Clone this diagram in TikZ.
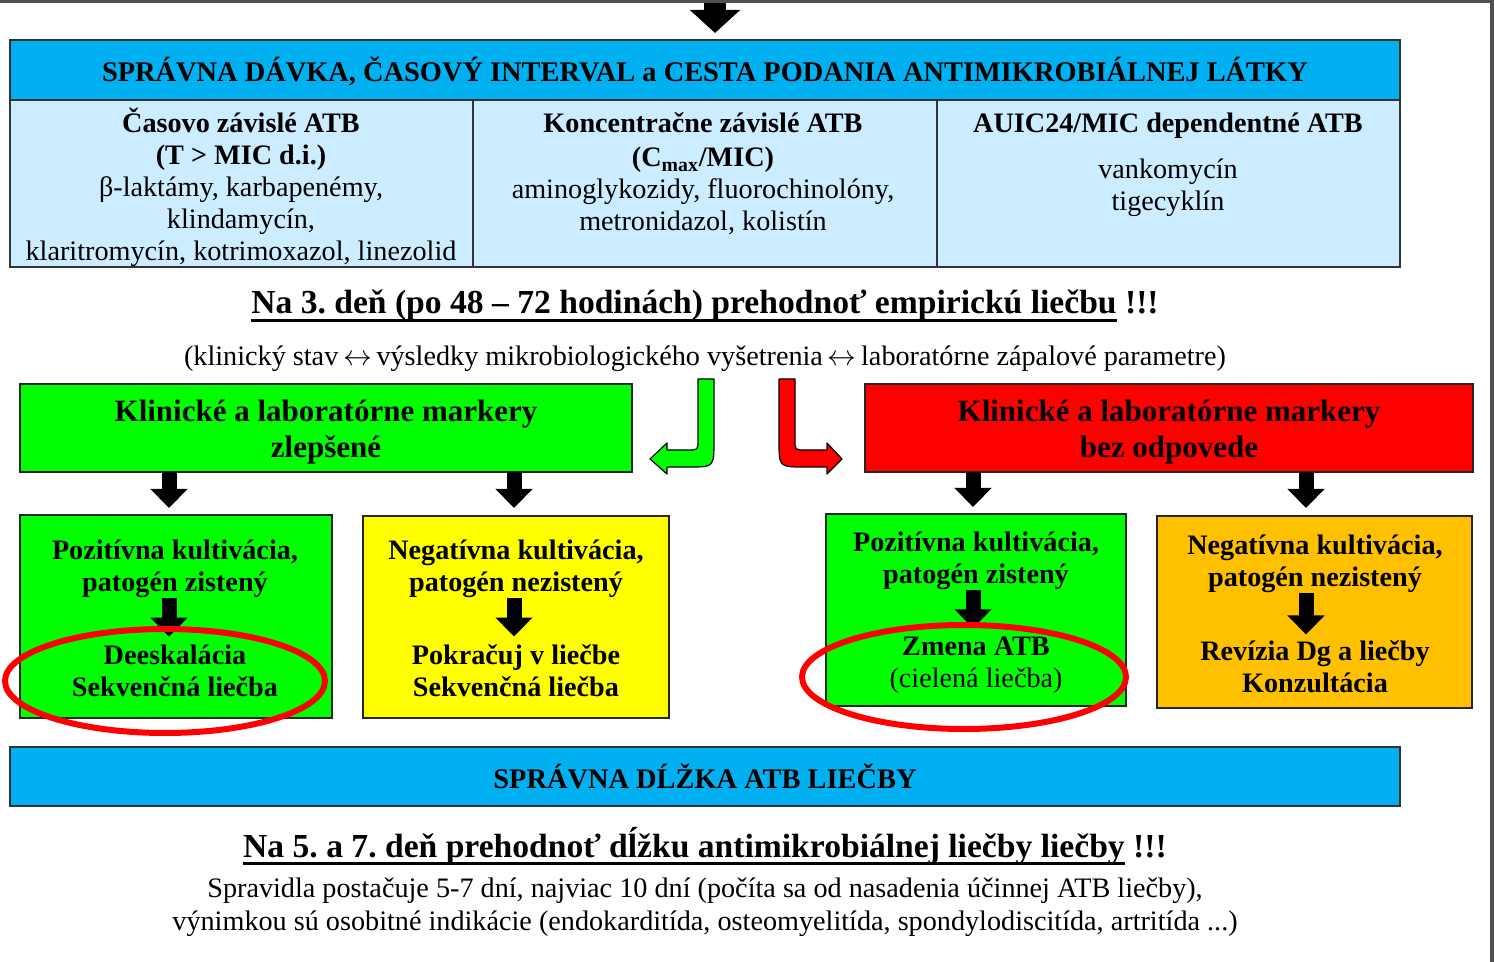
\documentclass[tikz,border=0pt]{standalone}
\usepackage{fontspec}
\setmainfont{Liberation Serif}
\usetikzlibrary{arrows.meta,shapes.geometric}
\definecolor{hdrblue}{HTML}{00B0F0}
\definecolor{lightblue}{HTML}{CCECFF}
\definecolor{brgreen}{HTML}{00FF00}
\definecolor{brred}{HTML}{FF0000}
\definecolor{bryellow}{HTML}{FFFF00}
\definecolor{orangebox}{HTML}{FFC000}
\definecolor{framegray}{HTML}{505050}
\frenchspacing
\newcommand\thul[1]{\setbox0\hbox{#1}\rlap{\rule[-4pt]{\wd0}{1.5pt}}\box0\relax}
\newcommand\lrarr{\,$\leftrightarrow$\,}
\tikzset{
  cellbox/.style={draw=black!80, line width=0.6pt, inner sep=0pt, outer sep=0pt},
  flowbox/.style={draw=black!85, line width=1pt, inner sep=0pt, outer sep=0pt},
  txt/.style={inner sep=0pt, align=center},
  bodyfont/.style={font=\fontsize{14.1}{16}\selectfont},
  boxfont/.style={font=\bfseries\fontsize{14.1}{16}\selectfont},
  headfont/.style={font=\bfseries\fontsize{15.5}{18}\selectfont},
  barfont/.style={font=\bfseries\fontsize{14.2}{16}\selectfont},
  bigfont/.style={font=\bfseries\fontsize{16.8}{20}\selectfont},
  smallarrow/.style={line width=7.5pt, -{Triangle[width=18pt,length=9.5pt]}},
  bigarrow/.style={line width=11pt, -{Triangle[width=24.5pt,length=11.5pt]}},
  hilite/.style={ellipse, draw=brred, line width=3pt, inner sep=0pt},
  bentarrow/.style={draw=black, line width=0.6pt, line join=round}
}
\begin{document}
\begin{tikzpicture}[x=0.5pt,y=-0.5pt]
\useasboundingbox (0,0) rectangle (1494,962);
\fill[white] (0,0) rectangle (1494,962);
\fill[framegray] (0,0) rectangle (1494,3);
\fill[framegray] (1490,0) rectangle (1494,962);

% ---- top table
\node[cellbox, fill=hdrblue, minimum width=695pt, minimum height=30pt] (hdr) at (705,70) {};
\node[txt, barfont] (hdrt) at (705,71) {SPRÁVNA DÁVKA, ČASOVÝ INTERVAL a CESTA PODANIA ANTIMIKROBIÁLNEJ LÁTKY};
\node[cellbox, fill=lightblue, minimum width=231.5pt, minimum height=83.5pt] (c1) at (241.5,183.5) {};
\node[cellbox, fill=lightblue, minimum width=232pt, minimum height=83.5pt] (c2) at (705,183.5) {};
\node[cellbox, fill=lightblue, minimum width=231.5pt, minimum height=83.5pt] (c3) at (1168.5,183.5) {};
\node[txt, bodyfont] (c1t) at (241,187) {\textbf{Časovo závislé ATB}\\ \textbf{(T > MIC d.i.)}\\ β-laktámy, karbapenémy,\\ klindamycín,\\ klaritromycín, kotrimoxazol, linezolid};
\node[txt, bodyfont] (c2t) at (703,174) {\textbf{Koncentračne závislé ATB}\\[1pt] \textbf{(C\textsubscript{max}/MIC)}\\ aminoglykozidy, fluorochinolóny,\\ metronidazol, kolistín};
\node[txt, boxfont] (c3h) at (1168,126) {AUIC24/MIC dependentné ATB};
\node[txt, bodyfont] (c3t) at (1168,188) {vankomycín\\ tigecyklín};
\coordinate (topin) at (715,3);
\draw[bigarrow, shorten >=3.5pt] (topin) -- (topin |- hdr.north);

% ---- reevaluation text
\node[txt, bigfont] (day3) at (705,306) {\thul{Na 3. deň (po 48 – 72 hodinách) prehodnoť empirickú liečbu} !!!};
\node[txt, bodyfont] (param) at (705,359) {(klinický stav\lrarr výsledky mikrobiologického vyšetrenia\lrarr laboratórne zápalové parametre)};

% ---- marker boxes
\node[flowbox, fill=brgreen, minimum width=306pt, minimum height=44pt] (gb) at (326,428) {};
\node[txt, headfont] (gbt) at (326,432) {Klinické a laboratórne markery\\ zlepšené};
\node[flowbox, fill=brred, minimum width=304pt, minimum height=44pt] (rb) at (1169,428) {};
\node[txt, headfont] (rbt) at (1169,432) {Klinické a laboratórne markery\\ bez odpovede};

% bent arrows
\filldraw[bentarrow, fill=brgreen] (698,379) -- (714,379) -- (714,440) .. controls (714,467) .. (690,467)
  -- (667,467) -- (667,474) -- (650,459) -- (667,443) -- (667,450) -- (688,450)
  .. controls (698,450) .. (698,440) -- cycle;
\filldraw[bentarrow, fill=brred] (795,379) -- (779,379) -- (779,440) .. controls (779,467) .. (803,467)
  -- (827,467) -- (827,474) -- (842,459) -- (827,443) -- (827,450) -- (805,450)
  .. controls (795,450) .. (795,440) -- cycle;

% ---- lower boxes
\node[flowbox, fill=brgreen, minimum width=156pt, minimum height=101.5pt] (b1) at (176,616.5) {};
\node[flowbox, fill=bryellow, minimum width=153pt, minimum height=101pt] (b2) at (516,617) {};
\node[flowbox, fill=brgreen, minimum width=150pt, minimum height=96pt] (b3) at (976,610) {};
\node[flowbox, fill=orangebox, minimum width=157.5pt, minimum height=96pt] (b4) at (1314.5,612) {};

\node[txt, boxfont] (b1t) at (175,569) {Pozitívna kultivácia,\\ patogén zistený};
\node[txt, boxfont] (b1b) at (175,671) {Deeskalácia\\ Sekvenčná liečba};
\node[txt, boxfont] (b2t) at (516,569) {Negatívna kultivácia,\\ patogén nezistený};
\node[txt, boxfont] (b2b) at (516,671) {Pokračuj v liečbe\\ Sekvenčná liečba};
\node[txt, boxfont] (b3t) at (976,561) {Pozitívna kultivácia,\\ patogén zistený};
\node[txt, boxfont] (b3b) at (976,665) {Zmena ATB\\ \mdseries (cielená liečba)};
\node[txt, boxfont] (b4t) at (1315,564) {Negatívna kultivácia,\\ patogén nezistený};
\node[txt, boxfont] (b4b) at (1315,667) {Revízia Dg a liečby\\ Konzultácia};

\coordinate (a1) at (169,472); \coordinate (a2) at (514,472);
\coordinate (a3) at (973,472); \coordinate (a4) at (1306,472);
\draw[smallarrow, shorten >=3.5pt] (a1) -- (a1 |- b1.north);
\draw[smallarrow, shorten >=4pt] (a2) -- (a2 |- b2.north);
\draw[smallarrow, shorten >=3.5pt] (a3) -- (a3 |- b3.north);
\draw[smallarrow, shorten >=4pt] (a4) -- (a4 |- b4.north);

\draw[smallarrow, shorten <=0pt, shorten >=4pt] (b1t.south -| a1) -- (b1b.north -| a1);
\draw[smallarrow, shorten <=0pt, shorten >=4pt] (b2t.south -| a2) -- (b2b.north -| a2);
\draw[smallarrow, shorten <=0pt, shorten >=4pt] (b3t.south -| a3) -- (b3b.north -| a3);
\draw[smallarrow, shorten <=0pt, shorten >=3pt] (b4t.south -| a4) -- (b4b.north -| a4);

\node[hilite, minimum width=160pt, minimum height=52pt] (e1) at (165,681) {};
\node[hilite, minimum width=162pt, minimum height=52pt] (e2) at (964,677) {};

% ---- duration bar
\node[cellbox, fill=hdrblue, minimum width=695pt, minimum height=29.5pt] (dur) at (705,776.5) {};
\node[txt, barfont] (durt) at (705,776) {SPRÁVNA DĹŽKA ATB LIEČBY};
\node[txt, bigfont] (day5) at (705,846) {\thul{Na 5. a 7. deň prehodnoť dĺžku antimikrobiálnej liečby liečby} !!!};
\node[txt, font=\fontsize{14.1}{16.5}\selectfont] (note) at (705,907) {Spravidla postačuje 5-7 dní, najviac 10 dní (počíta sa od nasadenia účinnej ATB liečby),\\ výnimkou sú osobitné indikácie (endokarditída, osteomyelitída, spondylodiscitída, artritída ...)};
\end{tikzpicture}
\end{document}
